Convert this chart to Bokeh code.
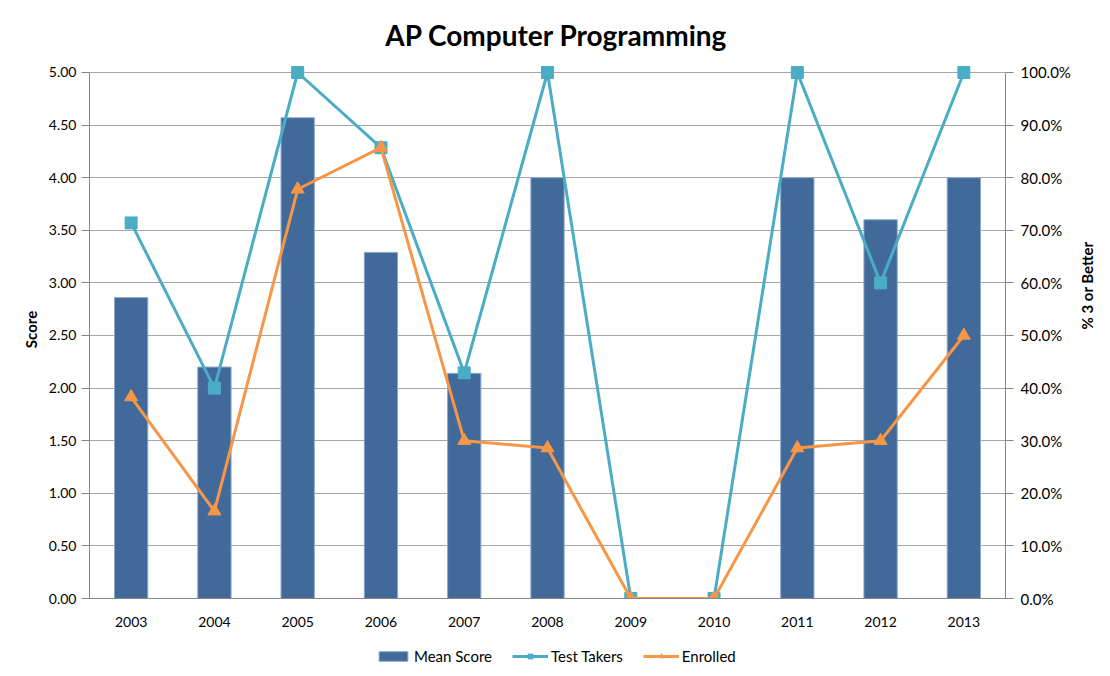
import math
from bokeh.plotting import figure
from bokeh.layouts import column
from bokeh.models import (ColumnDataSource, Range1d, LinearAxis, NumeralTickFormatter,
                          Legend, LegendItem, FactorRange, FixedTicker, Label)
from bokeh.embed import file_html
from bokeh.resources import INLINE

title_text = "AP Computer Programming"
years = ["2003", "2004", "2005", "2006", "2007", "2008", "2009", "2010", "2011", "2012", "2013"]
mean_score = [2.86, 2.20, 4.57, 3.29, 2.14, 4.00, 0.0, 0.0, 4.00, 3.60, 4.00]
test_takers = [0.714, 0.40, 1.00, 0.857, 0.429, 1.00, 0.0, 0.0, 1.00, 0.60, 1.00]
enrolled = [0.383, 0.166, 0.778, 0.857, 0.30, 0.286, 0.0, 0.0, 0.286, 0.30, 0.50]
series_names = ["Mean Score", "Test Takers", "Enrolled"]
score_ticks = [0.5 * i for i in range(11)]
pct_ticks = [0.1 * i for i in range(11)]

FONT = "Lato"
BAR = "#416A9B"
TEAL = "#4BACC6"
ORANGE = "#F79646"
GRID = "#A6A6A6"
AXIS = "#868686"

src = ColumnDataSource(dict(year=years, score=mean_score, tt=test_takers, en=enrolled))

# --- title strip ---
tp = figure(width=1110, height=60, output_backend="svg", toolbar_location=None,
            x_range=Range1d(0, 1), y_range=Range1d(0, 1),
            min_border_left=89, min_border_right=105, min_border_top=0, min_border_bottom=0)
tp.axis.visible = False
tp.grid.visible = False
tp.outline_line_color = None
tp.add_layout(Label(x=0.5098, y=0.42, text=title_text, text_align="center",
                    text_baseline="middle", text_font=FONT, text_font_size="28px",
                    text_font_style="bold", text_color="#000000"))

# --- main chart (range headroom keeps top markers unclipped; axes bounded at 5 / 100%) ---
p = figure(width=1110, height=586, output_backend="svg", toolbar_location=None,
           x_range=FactorRange(*years), y_range=Range1d(0, 5.114),
           min_border_left=89, min_border_right=105, min_border_top=0, min_border_bottom=48)
p.extra_y_ranges = {"pct": Range1d(0, 1.0228)}

p.outline_line_color = None
p.xgrid.grid_line_color = None
p.ygrid.grid_line_color = GRID
p.ygrid.grid_line_width = 1
p.ygrid.ticker = FixedTicker(ticks=score_ticks)

ya = p.yaxis[0]
ya.ticker = FixedTicker(ticks=score_ticks)
ya.bounds = (0, 5)
ya.formatter = NumeralTickFormatter(format="0.00")
ya.axis_label = "Score"
ya.axis_label_text_font = FONT
ya.axis_label_text_font_style = "bold"
ya.axis_label_text_font_size = "15px"
ya.axis_label_text_color = "#000000"
ya.axis_label_standoff = 6
ya.major_label_text_font = FONT
ya.major_label_text_font_size = "14px"
ya.major_label_text_color = "#000000"
ya.axis_line_color = AXIS
ya.major_tick_line_color = AXIS
ya.major_tick_out = 8
ya.major_tick_in = 0
ya.minor_tick_line_color = None

ra = LinearAxis(y_range_name="pct", ticker=FixedTicker(ticks=pct_ticks),
                formatter=NumeralTickFormatter(format="0.0%"), bounds=(0, 1))
ra.axis_label = "% 3 or Better"
ra.axis_label_text_font = FONT
ra.axis_label_text_font_style = "bold"
ra.axis_label_text_font_size = "15px"
ra.axis_label_text_color = "#000000"
ra.axis_label_standoff = 13
ra.axis_label_orientation = math.pi / 2
ra.major_label_text_font = FONT
ra.major_label_text_font_size = "15px"
ra.major_label_text_color = "#000000"
ra.major_label_standoff = 7
ra.axis_line_color = AXIS
ra.major_tick_line_color = AXIS
ra.major_tick_out = 8
ra.major_tick_in = 0
ra.minor_tick_line_color = None
p.add_layout(ra, "right")

xa = p.xaxis[0]
xa.major_label_text_font = FONT
xa.major_label_text_font_size = "14px"
xa.major_label_text_color = "#000000"
xa.axis_line_color = AXIS
xa.major_tick_line_color = None
xa.minor_tick_line_color = None
xa.major_label_standoff = 12

p.vbar(x="year", top="score", width=0.40, source=src, fill_color=BAR,
       line_color="#8FA8C8", line_width=1)
p.line(x="year", y="tt", source=src, y_range_name="pct", line_color=TEAL, line_width=3)
p.scatter(x="year", y="tt", source=src, y_range_name="pct", marker="square",
          size=12, fill_color=TEAL, line_color=TEAL)
p.line(x="year", y="en", source=src, y_range_name="pct", line_color=ORANGE, line_width=3)
p.scatter(x="year", y="en", source=src, y_range_name="pct", marker="triangle",
          size=13, fill_color=ORANGE, line_color=ORANGE)

# --- legend strip: same series drawn into a view range that keeps them out of sight ---
lg = figure(width=1110, height=30, output_backend="svg", toolbar_location=None,
            x_range=FactorRange(*years), y_range=Range1d(100, 101),
            min_border_left=89, min_border_right=105, min_border_top=0, min_border_bottom=0)
lg.axis.visible = False
lg.grid.visible = False
lg.outline_line_color = None
lb = lg.vbar(x="year", top="score", width=0.4, source=src, fill_color=BAR, line_color="#8FA8C8")
l1 = lg.line(x="year", y="tt", source=src, line_color=TEAL, line_width=3)
s1 = lg.scatter(x="year", y="tt", source=src, marker="square", size=11, fill_color=TEAL, line_color=TEAL)
l2 = lg.line(x="year", y="en", source=src, line_color=ORANGE, line_width=3)
s2 = lg.scatter(x="year", y="en", source=src, marker="triangle", size=13, fill_color=ORANGE, line_color=ORANGE)

legend = Legend(items=[
    LegendItem(label=series_names[0], renderers=[lb]),
    LegendItem(label=series_names[1], renderers=[l1, s1]),
    LegendItem(label=series_names[2], renderers=[l2, s2]),
], orientation="horizontal", location=(286, 11))
legend.label_text_font = FONT
legend.label_text_font_size = "15px"
legend.label_text_color = "#000000"
legend.border_line_color = None
legend.background_fill_alpha = 0
legend.glyph_width = 36
legend.glyph_height = 12
legend.label_standoff = 3
legend.spacing = 20
legend.padding = 0
legend.margin = 0
lg.add_layout(legend, "center")

layout = column(tp, p, lg, spacing=0)
open("out.html", "w").write(file_html(layout, INLINE))
